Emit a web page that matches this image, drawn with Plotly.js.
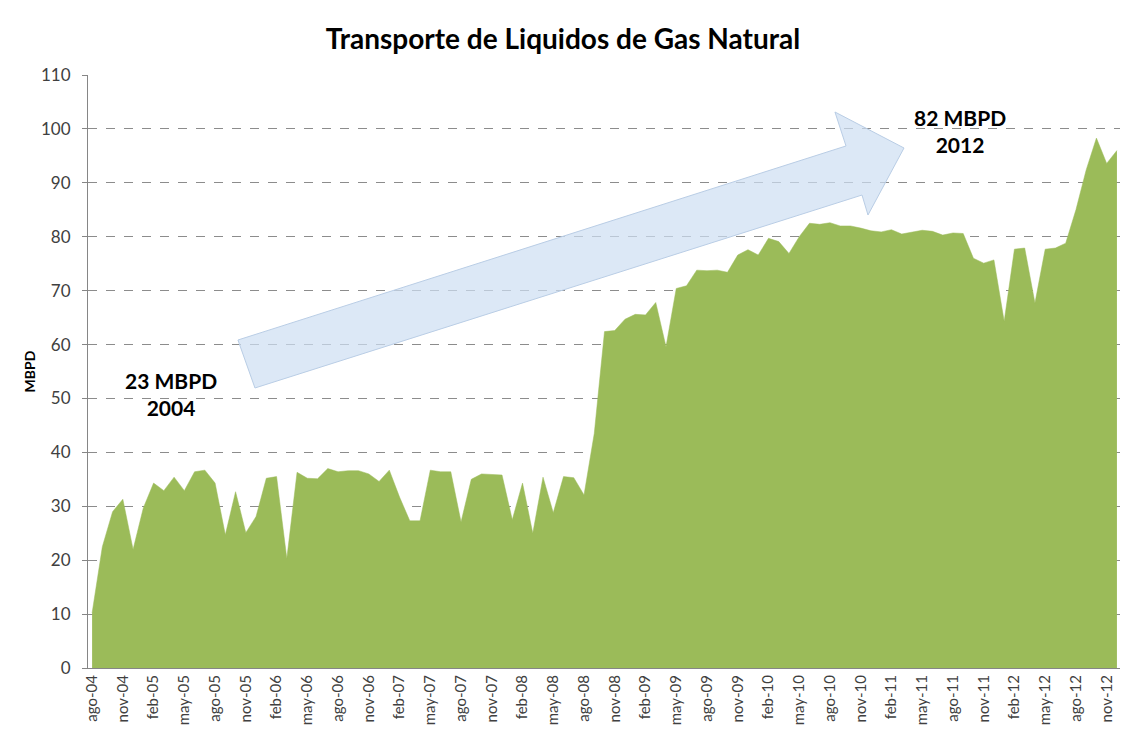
<!DOCTYPE html>
<html>
<head>
<meta charset="utf-8">
<script src="https://cdn.plot.ly/plotly-3.0.1.min.js"></script>
<style>html,body{margin:0;padding:0;background:#fff;}#chart{width:1126px;height:755px;}</style>
</head>
<body>
<div id="chart"></div>
<script>
// Months ago-04 .. dic-12 (monthly)
const monthNames = ["ene","feb","mar","abr","may","jun","jul","ago","sep","oct","nov","dic"];
const categories = [];
for (let y = 2004; y <= 2012; y++) {
  for (let m = 0; m < 12; m++) {
    if (y === 2004 && m < 7) continue;
    categories.push(monthNames[m] + "-" + String(y).slice(2));
  }
}
const mbpd = [
  10.2, 22.5, 29.0, 31.3, 22.0, 29.7, 34.3, 32.9, 35.4, 32.9,
  36.4, 36.7, 34.3, 24.7, 32.7, 25.1, 28.1, 35.2, 35.5, 20.3,
  36.3, 35.2, 35.1, 37.0, 36.4, 36.6, 36.6, 36.0, 34.6, 36.7,
  31.7, 27.3, 27.3, 36.7, 36.4, 36.4, 27.1, 35.0, 36.0, 35.9,
  35.8, 27.5, 34.3, 25.0, 35.4, 28.8, 35.5, 35.3, 32.1, 43.5,
  62.4, 62.6, 64.7, 65.6, 65.5, 67.8, 59.6, 70.4, 70.9, 73.8,
  73.7, 73.8, 73.4, 76.6, 77.6, 76.6, 79.7, 79.1, 76.9, 80.0,
  82.5, 82.3, 82.6, 82.0, 82.0, 81.6, 81.1, 80.9, 81.3, 80.5,
  80.8, 81.2, 81.0, 80.3, 80.7, 80.6, 76.0, 75.1, 75.7, 64.3,
  77.7, 77.9, 67.7, 77.7, 77.9, 78.8, 85.0, 92.4, 98.3, 93.6,
  96.0
];
const tickLabels = categories.filter((c, i) => i % 3 === 0);
const titleText = "Transporte de Liquidos de Gas Natural";
const yTitle = "MBPD";
const startNote = "23 MBPD<br>2004";
const endNote = "82 MBPD<br>2012";

const trace = {
  x: categories,
  y: mbpd,
  type: "scatter",
  mode: "lines",
  fill: "tozeroy",
  fillcolor: "#9bbb59",
  line: {color: "#9bbb59", width: 0.5},
  hoverinfo: "x+y"
};

const font = "Lato, 'Open Sans', 'DejaVu Sans', sans-serif";

const layout = {
  width: 1126, height: 755,
  margin: {l: 88, r: 6, t: 75, b: 87},
  paper_bgcolor: "#fff", plot_bgcolor: "#fff",
  showlegend: false,
  title: {text: "<b>" + titleText + "</b>", x: 0.5, xanchor: "center", y: 0.948, yanchor: "middle",
          font: {family: font, size: 28, color: "#000"}},
  xaxis: {
    type: "category",
    range: [-0.4, 100.3],
    tickmode: "array",
    tickvals: tickLabels,
    ticktext: tickLabels,
    tickangle: -90,
    tickfont: {family: font, size: 15, color: "#404040"},
    showgrid: false,
    showline: true, linecolor: "#868686", linewidth: 1,
    ticks: "", zeroline: false
  },
  yaxis: {
    range: [0, 110],
    dtick: 10,
    tick0: 0,
    tickfont: {family: font, size: 17, color: "#404040"},
    ticklabelstandoff: 8,
    showgrid: true, gridcolor: "#8c8c8c", griddash: "dash", gridwidth: 1,
    showline: true, linecolor: "#868686", linewidth: 1,
    ticks: "outside", ticklen: 5, tickcolor: "#868686",
    zeroline: false,
    title: {text: "<b>" + yTitle + "</b>", font: {family: font, size: 14, color: "#000"}, standoff: 2}
  },
  shapes: [{
    type: "path",
    xref: "paper", yref: "paper",
    path: "M 0.1453 0.5531 L 0.7345 0.8803 L 0.7238 0.9376 L 0.7907 0.8769 L 0.7558 0.7639 L 0.7500 0.7976 L 0.1618 0.4722 Z",
    fillcolor: "rgba(205,222,242,0.7)",
    line: {color: "#b9cde5", width: 1},
    layer: "above"
  }],
  annotations: [
    {xref: "paper", yref: "paper", x: (171 - 88) / 1032, y: (668 - 394) / 593, xanchor: "center", yanchor: "middle",
     text: "<b>" + startNote + "</b>",
     showarrow: false, font: {family: font, size: 21, color: "#000"}, align: "center"},
    {xref: "paper", yref: "paper", x: (960 - 88) / 1032, y: (668 - 131) / 593, xanchor: "center", yanchor: "middle",
     text: "<b>" + endNote + "</b>",
     showarrow: false, font: {family: font, size: 21, color: "#000"}, align: "center"}
  ]
};

Plotly.newPlot("chart", [trace], layout, {displayModeBar: false, staticPlot: true});
</script>
</body>
</html>
